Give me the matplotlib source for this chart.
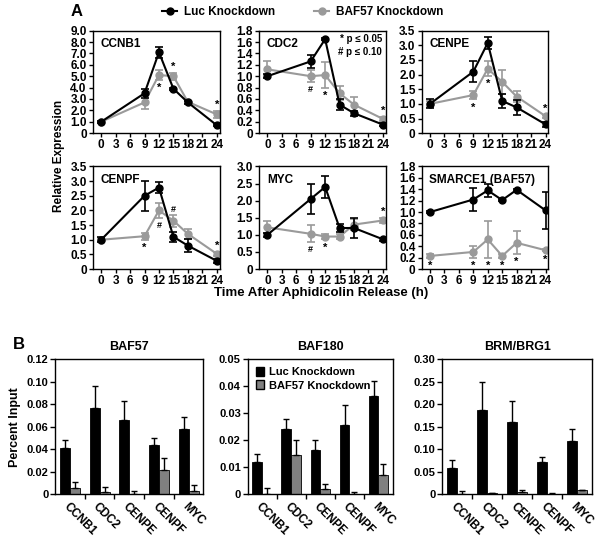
import numpy as np
import matplotlib
matplotlib.use("Agg")
import matplotlib.pyplot as plt
from matplotlib.lines import Line2D
from matplotlib.patches import Patch

plt.rcParams['font.family'] = ['Liberation Sans', 'DejaVu Sans']
plt.rcParams['font.weight'] = 'bold'
plt.rcParams['axes.linewidth'] = 1.0

# 时间点
hours = [0, 9, 12, 15, 18, 24]

# 各基因表达 (Luc / BAF57 knockdown) 及误差
ccnb1_luc = [1.0, 3.5, 7.1, 3.9, 2.7, 0.7]
ccnb1_luc_err = [0.1, 0.4, 0.5, 0.1, 0.1, 0.1]
ccnb1_kd = [1.0, 2.7, 5.1, 5.0, 2.75, 1.65]
ccnb1_kd_err = [0.1, 0.6, 0.45, 0.3, 0.1, 0.3]

cdc2_luc = [1.0, 1.26, 1.65, 0.5, 0.35, 0.15]
cdc2_luc_err = [0.03, 0.12, 0.02, 0.1, 0.04, 0.03]
cdc2_kd = [1.12, 1.0, 1.02, 0.7, 0.5, 0.25]
cdc2_kd_err = [0.15, 0.1, 0.23, 0.12, 0.13, 0.03]

cenpe_luc = [1.0, 2.1, 3.08, 1.1, 0.88, 0.3]
cenpe_luc_err = [0.15, 0.35, 0.2, 0.25, 0.25, 0.08]
cenpe_kd = [1.0, 1.3, 2.2, 1.75, 1.25, 0.58]
cenpe_kd_err = [0.1, 0.15, 0.25, 0.4, 0.2, 0.05]

cenpf_luc = [1.0, 2.5, 2.78, 1.1, 0.8, 0.28]
cenpf_luc_err = [0.08, 0.52, 0.18, 0.17, 0.22, 0.06]
cenpf_kd = [1.0, 1.12, 2.0, 1.65, 1.2, 0.52]
cenpf_kd_err = [0.05, 0.12, 0.27, 0.2, 0.18, 0.06]

myc_luc = [1.0, 2.05, 2.4, 1.2, 1.2, 0.87]
myc_luc_err = [0.05, 0.45, 0.32, 0.12, 0.3, 0.05]
myc_kd = [1.22, 1.03, 0.95, 0.95, 1.3, 1.42]
myc_kd_err = [0.18, 0.25, 0.08, 0.08, 0.15, 0.08]

smarce1_luc = [1.0, 1.22, 1.38, 1.21, 1.39, 1.03]
smarce1_luc_err = [0.01, 0.2, 0.12, 0.02, 0.02, 0.33]
smarce1_kd = [0.23, 0.3, 0.52, 0.23, 0.46, 0.33]
smarce1_kd_err = [0.04, 0.1, 0.32, 0.03, 0.2, 0.02]

# 显著性标记: (时间, 符号, 上/下)
ccnb1_sig = [(12, '*', 'below'), (15, '*', 'above'), (24, '*', 'above')]
cdc2_sig = [(9, '#', 'below'), (12, '*', 'below'), (24, '*', 'above')]
cenpe_sig = [(9, '*', 'below'), (12, '*', 'below'), (24, '*', 'above')]
cenpf_sig = [(9, '*', 'below'), (12, '#', 'below'), (15, '#', 'above'), (24, '*', 'above')]
myc_sig = [(9, '#', 'below'), (12, '*', 'below'), (24, '*', 'above')]
smarce1_sig = [(0, '*', 'below'), (9, '*', 'below'), (12, '*', 'below'),
               (15, '*', 'below'), (18, '*', 'below'), (24, '*', 'below')]

# ChIP 数据
genes = ['CCNB1', 'CDC2', 'CENPE', 'CENPF', 'MYC']
baf57_luc = [0.041, 0.077, 0.066, 0.044, 0.058]
baf57_luc_err = [0.007, 0.019, 0.017, 0.006, 0.011]
baf57_kd = [0.005, 0.002, 0.0003, 0.021, 0.003]
baf57_kd_err = [0.006, 0.004, 0.002, 0.011, 0.005]

baf180_luc = [0.012, 0.024, 0.0165, 0.0255, 0.0363]
baf180_luc_err = [0.003, 0.004, 0.0035, 0.0075, 0.0057]
baf180_kd = [0.0001, 0.0143, 0.002, 0.0001, 0.0072]
baf180_kd_err = [0.0021, 0.0059, 0.0018, 0.0007, 0.0038]

brm_luc = [0.059, 0.188, 0.161, 0.071, 0.117]
brm_luc_err = [0.017, 0.061, 0.047, 0.012, 0.028]
brm_kd = [0.001, 0.002, 0.005, 0.001, 0.008]
brm_kd_err = [0.005, 0.001, 0.003, 0.002, 0.002]

BLACK = '#000000'
GRAY = '#9a9a9a'

fig = plt.figure(figsize=(6.0, 5.37), dpi=100)

line_panels = [
    ('CCNB1', ccnb1_luc, ccnb1_luc_err, ccnb1_kd, ccnb1_kd_err, ccnb1_sig, 9.0, 1.0, '%.1f'),
    ('CDC2', cdc2_luc, cdc2_luc_err, cdc2_kd, cdc2_kd_err, cdc2_sig, 1.8, 0.2, '%.1f'),
    ('CENPE', cenpe_luc, cenpe_luc_err, cenpe_kd, cenpe_kd_err, cenpe_sig, 3.5, 0.5, '%.1f'),
    ('CENPF', cenpf_luc, cenpf_luc_err, cenpf_kd, cenpf_kd_err, cenpf_sig, 3.5, 0.5, '%.1f'),
    ('MYC', myc_luc, myc_luc_err, myc_kd, myc_kd_err, myc_sig, 3.0, 0.5, '%.1f'),
    ('SMARCE1 (BAF57)', smarce1_luc, smarce1_luc_err, smarce1_kd, smarce1_kd_err, smarce1_sig, 1.8, 0.2, '%.1f'),
]

lefts = [0.155, 0.432, 0.703]
bottoms = [0.752, 0.499]
w, h = 0.211, 0.191

for i, (name, luc, luc_e, kd, kd_e, sig, ymax, step, fmt) in enumerate(line_panels):
    ax = fig.add_axes([lefts[i % 3], bottoms[i // 3], w, h])
    ax.errorbar(hours, kd, yerr=kd_e, color=GRAY, marker='o', ms=5, lw=1.5,
                capsize=2.8, elinewidth=1.2, capthick=1.2, zorder=2)
    ax.errorbar(hours, luc, yerr=luc_e, color=BLACK, marker='o', ms=5, lw=1.5,
                capsize=2.8, elinewidth=1.2, capthick=1.2, zorder=3)
    ax.set_xlim(-1.7, 24.6)
    ax.set_ylim(0, ymax)
    ax.set_xticks(range(0, 25, 3))
    yt = np.arange(0, ymax + step / 2, step)
    ax.set_yticks(yt)
    ax.set_yticklabels(['0'] + [fmt % v for v in yt[1:]])
    ax.tick_params(labelsize=8.5, length=3, width=1, pad=1.5)
    for lab in ax.get_xticklabels() + ax.get_yticklabels():
        lab.set_fontweight('bold')
    ax.text(0.06, 0.93, name, transform=ax.transAxes, fontsize=8.5,
            fontweight='bold', va='top', ha='left')
    off = ymax * 0.03
    for t, sym, pos in sig:
        j = hours.index(t)
        if pos == 'below':
            y = min(kd[j] - kd_e[j], luc[j] - luc_e[j]) - off
            ax.text(t, y, sym, ha='center', va='top', fontsize=8 if sym == '*' else 6.5,
                    fontweight='bold')
        else:
            y = max(kd[j] + kd_e[j], luc[j] + luc_e[j]) + off * 0.3
            ax.text(t, y, sym, ha='center', va='bottom', fontsize=8 if sym == '*' else 6.5,
                    fontweight='bold')
    if name == 'CDC2':
        ax.text(0.97, 0.92, '* p \u2264 0.05', transform=ax.transAxes, fontsize=7,
                ha='right', va='center', fontweight='bold')
        ax.text(0.97, 0.79, '# p \u2264 0.10', transform=ax.transAxes, fontsize=7,
                ha='right', va='center', fontweight='bold')

fig.text(0.098, 0.71, 'Relative Expression', rotation=90, ha='center', va='center',
         fontsize=8.5, fontweight='bold')
fig.text(0.535, 0.455, 'Time After Aphidicolin Release (h)', ha='center', va='center',
         fontsize=9.5, fontweight='bold')
fig.text(0.118, 0.978, 'A', fontsize=12, fontweight='bold', ha='left', va='center')
fig.text(0.022, 0.358, 'B', fontsize=12, fontweight='bold', ha='left', va='center')

handles = [Line2D([], [], color=BLACK, marker='o', ms=5, lw=1.5),
           Line2D([], [], color=GRAY, marker='o', ms=5, lw=1.5)]
fig.legend(handles, ['Luc Knockdown', 'BAF57 Knockdown'], loc='center',
           bbox_to_anchor=(0.505, 0.977), ncol=2, frameon=False,
           handlelength=1.25, columnspacing=3.3, handletextpad=0.6,
           prop={'weight': 'bold', 'size': 8.5})

# 条形图
bar_panels = [
    ('BAF57', baf57_luc, baf57_luc_err, baf57_kd, baf57_kd_err, 0.12, 0.02, '%.2f', [0.092, 0.247]),
    ('BAF180', baf180_luc, baf180_luc_err, baf180_kd, baf180_kd_err, 0.05, 0.01, '%.2f', [0.413, 0.242]),
    ('BRM/BRG1', brm_luc, brm_luc_err, brm_kd, brm_kd_err, 0.30, 0.05, '%.2f', [0.737, 0.250]),
]
x = np.arange(len(genes))
bw = 0.34
for name, luc, luc_e, kd, kd_e, ymax, step, fmt, (l, ww) in bar_panels:
    ax = fig.add_axes([l, 0.080, ww, 0.251])
    ax.bar(x - bw / 2, luc, bw, color=BLACK, edgecolor=BLACK, lw=0.6,
           yerr=[np.zeros(len(luc)), luc_e], error_kw=dict(ecolor=BLACK, elinewidth=1, capsize=2.5, capthick=1))
    ax.bar(x + bw / 2, kd, bw, color='#808080', edgecolor=BLACK, lw=0.6,
           yerr=[np.zeros(len(kd)), kd_e], error_kw=dict(ecolor=BLACK, elinewidth=1, capsize=2.5, capthick=1))
    ax.set_xlim(-0.5, len(genes) - 0.5)
    ax.set_ylim(0, ymax)
    yt = np.arange(0, ymax + step / 2, step)
    ax.set_yticks(yt)
    ax.set_yticklabels(['0'] + [fmt % v for v in yt[1:]])
    ax.set_xticks(x[:-1] + 0.5)
    ax.set_xticklabels([])
    ax.tick_params(labelsize=8, length=3.5, width=1, pad=1.5)
    for lab in ax.get_yticklabels():
        lab.set_fontweight('bold')
    for xi, g in zip(x, genes):
        ax.text(xi - 0.3, -ymax * 0.05, g, rotation=-45, ha='left', va='top',
                fontsize=8.5, fontweight='bold', transform=ax.transData)
    ax.set_title(name, fontsize=9, fontweight='bold', pad=7)
    if name == 'BAF57':
        ax.set_ylabel('Percent Input', fontsize=9, fontweight='bold', labelpad=4)
    if name == 'BAF180':
        ax.legend([Patch(facecolor=BLACK, edgecolor=BLACK), Patch(facecolor='#808080', edgecolor=BLACK)],
                  ['Luc Knockdown', 'BAF57 Knockdown'], loc='upper left', frameon=False,
                  prop={'weight': 'bold', 'size': 8}, handlelength=0.8, handleheight=0.9,
                  handletextpad=0.4, labelspacing=0.25, borderaxespad=0.3)

fig.savefig('out.png', dpi=100)
